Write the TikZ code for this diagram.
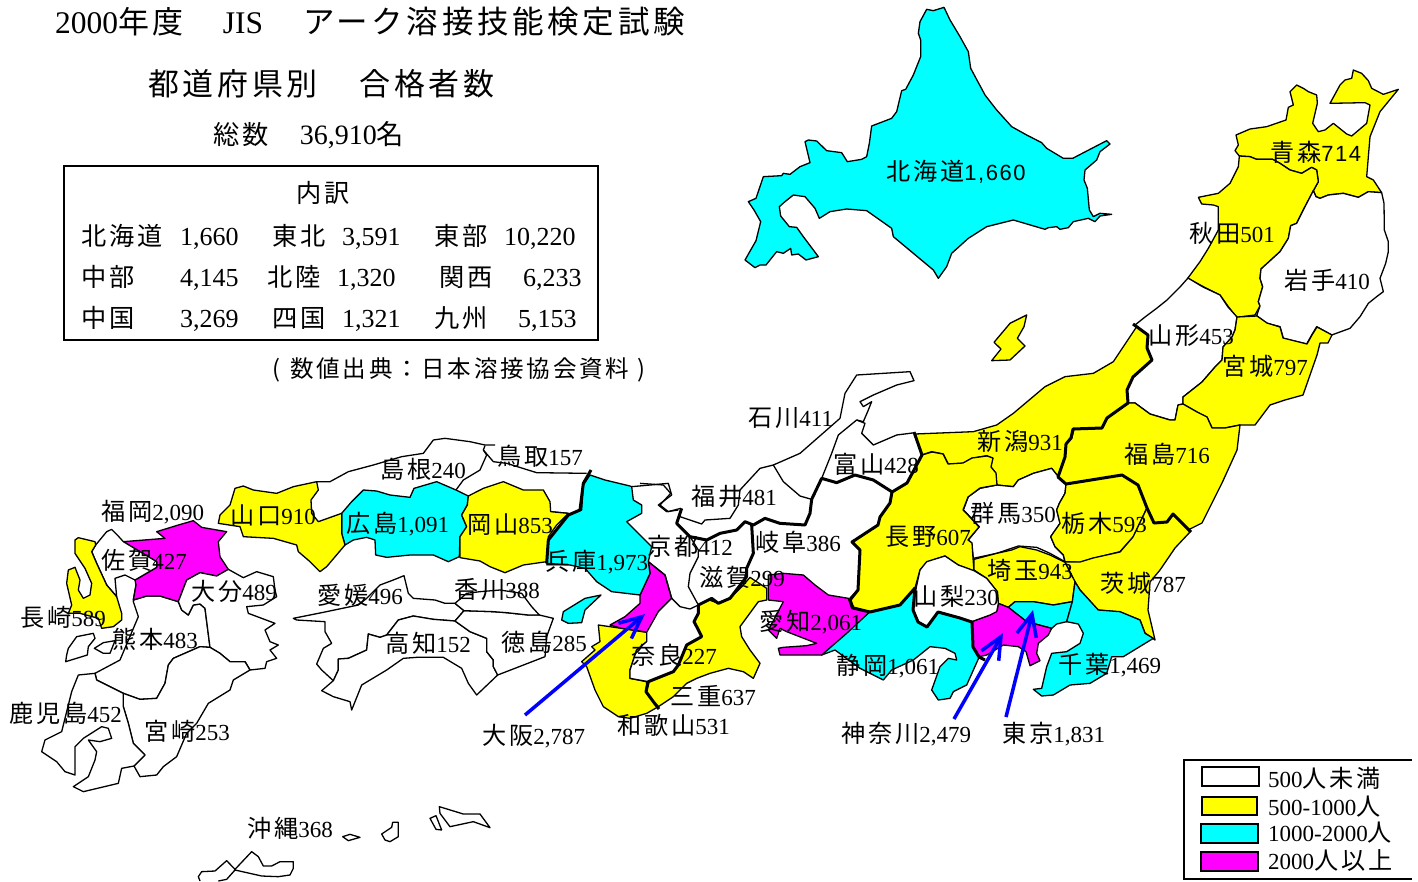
\documentclass[tikz,border=0pt]{standalone}
\usepackage{fontspec}
\setmainfont{Liberation Serif}
\newfontfamily\cjk[LetterSpace=11.8,Scale=1.05]{Noto Sans CJK JP}
\newfontfamily\sdig[LetterSpace=7]{Liberation Sans}
\usetikzlibrary{arrows.meta}
\definecolor{cy}{RGB}{0,255,255}
\definecolor{ye}{RGB}{255,255,0}
\definecolor{ma}{RGB}{255,0,255}
\definecolor{bl}{RGB}{0,0,255}
\tikzset{
 zm/.style={shift={(#1)},x=0.33333pt,y=-0.33333pt},
 pref/.style={draw=black,line width=1.3pt,line join=round},
 wh/.style={pref,fill=white},
 yy/.style={pref,fill=ye},
 cc/.style={pref,fill=cy},
 mm/.style={pref,fill=ma},
 thin line/.style={draw=black,line width=1.3pt,line join=round},
 thick line/.style={draw=black,line width=3pt,line join=round},
 mapl/.style={anchor=base west,inner sep=0pt,font=\fontsize{23}{23}\selectfont,text=black},
 txt/.style={anchor=base west,inner sep=0pt,font=\fontsize{24}{24}\selectfont,text=black},
 barrow/.style={draw=bl,line width=3.5pt,-{Straight Barb[length=22pt,width=20pt,line width=3.5pt]}},
 swatch/.style={draw=black,line width=2.5pt}
}
\newcommand{\lab}[5]{\node[mapl] (#1) at (#2,#3+8) {{\cjk #4}#5};}
\newcommand{\labs}[5]{\node[mapl,font=\fontsize{22}{22}\selectfont] (#1) at (#2,#3+8) {{\cjk\fontsize{23}{23}\selectfont #4}{\sdig #5}};}
\newcommand{\tk}[4]{\node[txt] (#1) at (#2,#3+9) {\cjk #4};}
\newcommand{\tn}[4]{\node[txt,font=\fontsize{26}{26}\selectfont] (#1) at (#2,#3+9) {#4};}
\begin{document}
\begin{tikzpicture}[x=1pt,y=-1pt]
\useasboundingbox (0,0) rectangle (1418,881);
\fill[white] (0,0) rectangle (1418,881);
% Hokkaido
\begin{scope}[zm={730,0}]
\path[cc] (590,28)--(610,32)--(642,22)--(660,60)--(690,110)--(715,155)--(722,205)--(765,285)--(800,330)--(845,380)--(890,405)--(935,428)--(950,445)--(1000,475)--(1028,475)--(1130,422)--(1140,432)--(1110,455)--(1100,480)--(1065,510)--(1062,540)--(1072,565)--(1078,630)--(1090,650)--(1110,640)--(1145,643)--(1110,648)--(1095,665)--(1075,655)--(1030,665)--(1015,683)--(990,688)--(980,680)--(955,683)--(945,688)--(850,660)--(770,680)--(715,715)--(665,760)--(650,800)--(625,835)--(610,810)--(490,710)--(485,685)--(410,632)--(350,627)--(300,635)--(268,655)--(255,625)--(225,590)--(190,585)--(165,605)--(148,620)--(152,648)--(178,680)--(200,682)--(220,710)--(250,750)--(265,770)--(228,780)--(205,762)--(185,765)--(182,745)--(160,760)--(140,755)--(108,795)--(90,795)--(75,803)--(45,780)--(78,722)--(92,665)--(72,630)--(55,605)--(78,595)--(100,530)--(155,527)--(160,520)--(180,523)--(210,500)--(240,488)--(225,425)--(235,420)--(260,423)--(290,452)--(335,458)--(352,485)--(395,478)--(410,470)--(418,430)--(425,378)--(485,355)--(500,335)--(515,272)--(527,268)--(550,225)--(572,170)--(572,120)--(565,100)--(570,65)--cycle;
\end{scope}
% Tohoku north
\begin{scope}[zm={1120,60}]
\path[yy] (348,225)--(390,207)--(440,200)--(498,180)--(505,142)--(520,135)--(510,95)--(530,75)--(550,85)--(565,95)--(590,105)--(592,130)--(578,190)--(595,215)--(615,210)--(640,190)--(680,222)--(695,228)--(740,190)--(750,135)--(735,128)--(630,130)--(660,75)--(675,60)--(695,55)--(700,30)--(725,40)--(745,62)--(755,85)--(790,103)--(835,88)--(780,155)--(750,230)--(740,350)--(760,360)--(785,398)--(745,395)--(715,412)--(670,400)--(625,405)--(600,415)--(588,410)--(580,392)--(595,365)--(590,330)--(575,322)--(545,340)--(510,330)--(480,310)--(458,298)--(410,298)--(390,290)--(358,288)--(345,272)--(355,255)--cycle;
\path[yy] (358,288)--(390,290)--(410,298)--(458,298)--(480,310)--(510,330)--(545,340)--(575,322)--(590,330)--(595,365)--(580,392)--(555,440)--(530,490)--(512,497)--(505,535)--(480,575)--(423,627)--(420,655)--(428,680)--(415,725)--(420,738)--(405,765)--(350,772)--(325,740)--(300,705)--(250,680)--(203,655)--(240,605)--(265,565)--(295,510)--(295,440)--(280,435)--(245,432)--(235,412)--(295,400)--(330,370)--(355,320)--cycle;
\path[wh] (588,410)--(600,415)--(625,405)--(670,400)--(715,412)--(745,395)--(785,398)--(792,430)--(793,510)--(805,545)--(805,575)--(797,610)--(780,655)--(790,695)--(770,710)--(745,730)--(720,770)--(690,805)--(635,825)--(590,800)--(575,825)--(560,852)--(490,835)--(480,800)--(440,790)--(410,767)--(420,738)--(415,725)--(428,680)--(420,655)--(423,627)--(480,575)--(505,535)--(512,497)--(530,490)--(555,440)--(580,392)--cycle;
\end{scope}
% Yamagata, Miyagi, Fukushima
\path[wh] (1188,278)--(1203,287)--(1220,295)--(1228,307)--(1237,317)--(1235,330)--(1232,337)--(1223,347)--(1222,360)--(1215,367)--(1202,382)--(1183,397)--(1183,404)--(1178,405)--(1175,420)--(1170,420)--(1150,414)--(1135,403)--(1128,403)--(1127,390)--(1133,377)--(1152,360)--(1147,348)--(1148,335)--(1135,325)--(1145,317)--(1157,308)--(1167,300)--(1180,287)--cycle;
\path[yy] (1237,317)--(1257,316)--(1267,323)--(1280,327)--(1283,338)--(1307,344)--(1312,335)--(1317,327)--(1332,335)--(1328,343)--(1320,343)--(1317,355)--(1310,375)--(1303,395)--(1285,400)--(1270,405)--(1255,425)--(1240,425)--(1225,428)--(1212,428)--(1207,417)--(1197,412)--(1183,404)--(1183,397)--(1202,382)--(1215,367)--(1222,360)--(1223,347)--(1232,337)--(1235,330)--cycle;
\path[yy] (1128,403)--(1135,403)--(1150,414)--(1170,420)--(1175,420)--(1178,405)--(1183,404)--(1197,412)--(1207,417)--(1212,428)--(1225,428)--(1240,425)--(1237,450)--(1222,483)--(1202,523)--(1188,530)--(1173,514)--(1167,522)--(1154,523)--(1147,508)--(1138,485)--(1122,475)--(1066,484)--(1058,477)--(1065,457)--(1066,444)--(1071,438)--(1073,429)--(1102,428)--(1107,418)--cycle;
% Niigata etc.
\begin{scope}[zm={900,310}]
\path[yy] (45,372)--(220,365)--(290,345)--(340,310)--(435,230)--(495,200)--(580,190)--(640,155)--(680,95)--(710,50)--(745,75)--(742,115)--(755,150)--(700,200)--(680,240)--(685,280)--(620,325)--(605,355)--(522,358)--(515,385)--(498,402)--(495,440)--(475,500)--(455,475)--(400,490)--(355,510)--(340,530)--(290,525)--(287,490)--(272,470)--(278,445)--(260,437)--(215,445)--(190,460)--(145,462)--(130,432)--(95,425)--(65,435)--cycle;
\path[yy] (380,15)--(330,40)--(282,97)--(303,117)--(275,152)--(330,150)--(375,108)--(352,85)--(372,50)--cycle;
\path[wh] (475,500)--(498,523)--(495,550)--(478,580)--(470,600)--(480,640)--(452,680)--(465,710)--(490,735)--(495,755)--(450,730)--(410,712)--(355,708)--(290,730)--(220,745)--(215,700)--(205,690)--(238,650)--(205,615)--(190,600)--(205,560)--(240,535)--(290,525)--(340,530)--(355,510)--(400,490)--(455,475)--cycle;
\path[yy] (498,523)--(665,495)--(715,525)--(740,595)--(700,680)--(660,725)--(580,745)--(540,757)--(495,755)--(490,735)--(465,710)--(452,680)--(480,640)--(470,600)--(478,580)--(495,550)--cycle;
\end{scope}
\path[yy] (1065,562)--(1080,562)--(1093,558)--(1120,552)--(1133,537)--(1147,508)--(1154,523)--(1167,522)--(1173,514)--(1190,532)--(1175,548)--(1160,570)--(1150,582)--(1148,610)--(1155,640)--(1145,633)--(1140,620)--(1120,612)--(1098,610)--(1080,590)--(1075,582)--cycle;
% Nagano
\path[yy] (922,455)--(932,452)--(943,454)--(948,464)--(963,463)--(972,458)--(987,456)--(993,458)--(991,467)--(996,473)--(997,485)--(980,488)--(968,497)--(963,510)--(968,515)--(979,527)--(968,540)--(972,543)--(973,558)--(974,571)--(958,565)--(945,556)--(927,562)--(920,570)--(915,588)--(900,605)--(870,612)--(853,607)--(850,598)--(858,590)--(860,550)--(852,542)--(878,525)--(880,517)--(890,503)--(892,492)--(907,483)--cycle;
% Kanto
\begin{scope}[zm={820,500}]
\path[yy] (462,178)--(530,160)--(575,150)--(600,140)--(650,150)--(690,165)--(735,187)--(765,245)--(757,305)--(700,315)--(640,305)--(585,305)--(565,322)--(535,310)--(532,275)--(500,235)--(462,210)--cycle;
\path[cc] (565,322)--(585,305)--(640,305)--(700,315)--(757,305)--(740,365)--(710,372)--(695,385)--(620,365)--cycle;
\path[mm] (535,310)--(565,322)--(620,365)--(695,385)--(685,405)--(655,430)--(650,460)--(660,482)--(630,497)--(618,455)--(595,440)--(550,435)--(500,465)--(478,470)--(460,440)--(455,365)--(510,345)--(532,330)--cycle;
\path[wh] (375,168)--(415,195)--(462,212)--(500,235)--(532,275)--(535,310)--(530,335)--(510,345)--(455,365)--(420,355)--(355,335)--(320,382)--(295,365)--(280,330)--(285,280)--(300,210)--(320,185)--cycle;
\path[cc] (150,335)--(240,315)--(285,265)--(280,330)--(295,365)--(320,382)--(355,335)--(420,355)--(455,365)--(460,440)--(478,470)--(440,555)--(400,575)--(390,595)--(355,600)--(335,570)--(360,500)--(385,475)--(410,480)--(405,460)--(375,445)--(330,440)--(280,480)--(215,510)--(190,540)--(120,505)--(45,450)--(5,465)--(20,420)--(75,395)--cycle;
\path[cc] (765,245)--(780,270)--(835,330)--(900,335)--(960,360)--(975,400)--(1000,415)--(910,470)--(875,470)--(860,520)--(810,550)--(750,555)--(700,585)--(665,588)--(640,568)--(665,565)--(680,500)--(695,460)--(740,455)--(780,430)--(790,400)--(775,372)--(740,365)--(757,305)--cycle;
\end{scope}
% Chubu west, Hokuriku
\begin{scope}[zm={640,360}]
\path[mm] (385,645)--(430,640)--(490,645)--(525,675)--(565,705)--(625,715)--(635,745)--(690,755)--(620,820)--(545,885)--(420,885)--(415,865)--(430,862)--(500,857)--(530,850)--(440,815)--(420,805)--(410,835)--(385,810)--(430,725)--(385,720)--(385,690)--cycle;
\path[thin line] (400,315)--(480,280)--(600,175)--(615,100)--(650,45)--(810,35)--(822,62)--(770,75)--(700,105)--(660,125)--(670,140)--(695,125)--(685,150)--(670,185)--(650,180)--(595,225)--(575,280)--(545,355);
\path[thin line] (650,180)--(675,190)--(665,220)--(700,255)--(770,225)--(825,218);
\path[thin line] (120,470)--(185,492)--(195,480)--(270,475)--(295,435)--(300,390)--(360,325)--(400,315)--(430,365)--(480,408)--(515,418);
\path[thin line] (0,370)--(70,375)--(92,400)--(60,435)--(85,455)--(122,445);
\path[thin line] (150,530)--(175,570)--(175,590)--(150,640)--(145,680)--(175,735);
\end{scope}
% Kinki
\begin{scope}[zm={540,460}]
\path[yy] (475,435)--(508,420)--(535,430)--(570,415)--(610,375)--(630,352)--(680,385)--(680,420)--(655,425)--(600,500)--(605,530)--(630,570)--(660,610)--(640,655)--(610,635)--(565,625)--(510,640)--(470,655)--(440,670)--(400,710)--(355,740)--(340,725)--(318,695)--(325,665)--(400,635)--(415,615)--(440,555)--(485,530)--(470,500)--(462,485)--(475,460)--cycle;
\path[yy] (175,495)--(245,505)--(320,517)--(320,545)--(290,570)--(270,630)--(270,655)--(320,665)--(318,695)--(340,725)--(355,740)--(320,760)--(270,775)--(235,770)--(190,740)--(165,690)--(140,620)--(125,605)--(165,570)--(155,560)--(180,545)--cycle;
\path[mm] (325,305)--(375,345)--(395,415)--(355,455)--(325,517)--(245,505)--(210,495)--(255,470)--(300,430)--(300,405)--(330,340)--cycle;
\path[wh] (395,415)--(420,440)--(450,447)--(475,435)--(475,460)--(462,485)--(470,500)--(485,530)--(440,555)--(415,615)--(400,635)--(325,665)--(270,655)--(270,630)--(290,570)--(320,545)--(320,517)--(355,455)--cycle;
\path[thin line] (275,80)--(385,70)--(395,105)--(355,135)--(380,155)--(415,150);
\path[thin line] (395,415)--(375,345)--(325,305);
\path[cc] (150,45)--(195,60)--(270,78)--(275,80)--(280,120)--(305,135)--(305,160)--(260,185)--(305,230)--(335,260)--(325,305)--(330,340)--(300,405)--(215,395)--(170,365)--(135,325)--(90,315)--(20,310)--(25,240)--(85,165)--(125,150)--(130,75)--cycle;
\path[cc] (183,405)--(135,415)--(70,455)--(65,480)--(85,490)--(125,488)--(135,450)--cycle;
\end{scope}
% Chugoku
\begin{scope}[zm={210,430}]
\path[thin line] (320,155)--(360,155)--(415,125)--(490,105)--(575,80)--(640,70)--(670,30)--(705,25)--(780,35)--(825,45)--(855,45);
\path[thin line] (825,47)--(820,60)--(830,75)--(810,120)--(760,150)--(738,180);
\path[thin line] (820,60)--(850,95)--(890,100)--(980,128)--(1130,130);
\path[thin line] (303,210)--(320,155);
\path[thin line] (1022,245)--(1075,250);
\path[cc] (460,180)--(500,183)--(540,195)--(600,202)--(612,175)--(680,155)--(738,180)--(775,198)--(772,225)--(755,255)--(770,290)--(750,320)--(748,380)--(715,395)--(670,375)--(600,375)--(530,382)--(497,375)--(495,330)--(470,322)--(430,330)--(405,345)--(395,310)--(395,250)--(425,215)--cycle;
\path[yy] (775,198)--(820,175)--(880,155)--(940,180)--(1000,180)--(1020,215)--(1022,245)--(1075,250)--(1040,285)--(1015,320)--(1010,395)--(940,405)--(885,428)--(840,410)--(810,393)--(750,383)--(750,320)--(770,290)--(755,255)--(772,225)--cycle;
\path[yy] (320,155)--(325,180)--(303,210)--(305,250)--(325,275)--(395,250)--(395,310)--(405,345)--(350,410)--(330,425)--(300,395)--(265,365)--(260,345)--(190,325)--(100,320)--(90,290)--(25,280)--(30,255)--(60,225)--(75,175)--(100,168)--(130,180)--(200,190)--(250,170)--cycle;
\end{scope}
% Shikoku
\begin{scope}[zm={280,560}]
\path[wh] (40,175)--(125,158)--(235,135)--(260,115)--(300,75)--(340,60)--(372,47)--(385,100)--(400,115)--(465,120)--(495,130)--(525,130)--(552,152)--(525,183)--(460,178)--(400,168)--(355,180)--(320,225)--(300,232)--(265,222)--(260,270)--(205,295)--(175,297)--(175,330)--(160,362)--(125,330)--(110,312)--(130,265)--(155,250)--(135,215)--(135,185)--(50,180)--cycle;
\path[wh] (525,183)--(570,215)--(620,235)--(620,275)--(640,300)--(640,320)--(653,345)--(590,405)--(565,370)--(545,325)--(490,292)--(410,292)--(370,295)--(320,330)--(245,375)--(215,450)--(210,425)--(160,410)--(125,392)--(160,362)--(175,330)--(175,297)--(205,295)--(260,270)--(265,222)--(300,232)--(320,225)--(355,180)--(400,168)--(460,178)--cycle;
\path[wh] (552,152)--(640,155)--(680,158)--(745,165)--(778,165)--(820,175)--(800,230)--(795,290)--(653,345)--(640,320)--(640,300)--(620,275)--(620,235)--(570,215)--(525,183)--cycle;
\path[wh] (525,130)--(560,100)--(600,95)--(660,90)--(725,100)--(755,140)--(778,165)--(745,165)--(680,158)--(640,155)--(552,152)--cycle;
\end{scope}
% Kyushu
\begin{scope}[zm={0,490}]
\path[wh] (408,285)--(400,335)--(415,380)--(360,510)--(285,550)--(290,570)--(370,610)--(420,628)--(470,625)--(495,580)--(505,525)--(520,505)--(600,470)--(630,472)--(615,355)--(600,342)--(580,345)--(565,375)--(545,360)--(535,335)--(480,318)--(440,318)--(400,330)--cycle;
\path[mm] (370,155)--(495,145)--(470,125)--(535,105)--(580,92)--(605,112)--(680,125)--(655,155)--(660,200)--(685,238)--(650,258)--(600,248)--(560,270)--(535,335)--(480,318)--(440,318)--(400,330)--(408,285)--(405,270)--(470,232)--(470,215)--cycle;
\path[wh] (287,165)--(320,125)--(335,118)--(352,135)--(370,155)--(470,215)--(470,232)--(405,270)--(375,255)--(345,265)--(350,320)--(320,285)--(290,220)--(275,185)--cycle;
\path[yy] (225,150)--(235,143)--(285,155)--(287,165)--(275,185)--(290,220)--(320,285)--(350,320)--(365,370)--(365,390)--(340,410)--(305,415)--(295,385)--(240,370)--(205,370)--(215,345)--(200,280)--(205,240)--(225,232)--(240,270)--(235,300)--(250,325)--(270,315)--(275,280)--(255,235)--(225,190)--cycle;
\path[wh] (205,475)--(230,440)--(280,430)--(285,445)--(265,470)--(262,495)--(197,515)--(200,495)--cycle;
\path[wh] (283,475)--(310,458)--(345,452)--(330,490)--(310,490)--cycle;
\path[wh] (535,335)--(560,270)--(600,248)--(650,258)--(685,238)--(730,263)--(770,245)--(820,260)--(825,300)--(830,320)--(790,345)--(740,350)--(745,370)--(825,400)--(795,420)--(810,455)--(835,465)--(810,480)--(830,505)--(800,515)--(795,535)--(750,540)--(735,515)--(690,515)--(660,490)--(630,472)--(615,355)--(600,342)--(580,345)--(565,375)--(545,360)--cycle;
\path[wh] (600,470)--(630,472)--(660,490)--(690,515)--(735,515)--(750,540)--(700,570)--(690,600)--(625,640)--(590,700)--(560,730)--(530,800)--(490,830)--(470,855)--(420,860)--(402,828)--(435,795)--(400,760)--(385,700)--(370,650)--(370,610)--(420,628)--(470,625)--(495,580)--(505,525)--(520,505)--cycle;
\path[wh] (285,550)--(290,570)--(370,610)--(370,650)--(385,700)--(400,760)--(435,795)--(402,828)--(365,835)--(355,880)--(250,905)--(220,890)--(265,860)--(285,810)--(290,785)--(265,750)--(300,755)--(335,745)--(325,715)--(305,710)--(250,745)--(225,770)--(225,855)--(195,845)--(170,815)--(125,785)--(135,750)--(185,725)--(215,605)--(235,555)--cycle;
\end{scope}
% Okinawa
\begin{scope}[zm={190,790}]
\path[thin line] (30,273)--(25,260)--(35,245)--(75,243)--(110,212)--(135,238)--(185,185)--(205,200)--(220,228)--(245,228)--(270,215)--(310,215)--(310,235)--(300,255)--(265,260)--(215,258)--(135,240)--(110,268)--(85,273);
\path[wh] (458,140)--(480,133)--(510,142)--(475,152)--cycle;
\path[wh] (575,132)--(605,112)--(608,97)--(625,97)--(625,140)--(600,155)--(585,150)--cycle;
\path[wh] (720,85)--(738,77)--(755,120)--(738,118)--cycle;
\path[wh] (748,50)--(820,72)--(870,72)--(900,113)--(850,95)--(780,110)--(750,70)--cycle;
\end{scope}
% thick regional boundaries
\path[thick line] (1133,324)--(1148,335)--(1147,348)--(1152,360)--(1133,377)--(1127,390)--(1128,403)--(1107,418)--(1102,428)--(1073,429)--(1071,438)--(1066,444)--(1065,457)--(1058,477)--(1066,484)--(1122,475)--(1138,485)--(1147,508)--(1154,523)--(1167,522)--(1173,514)--(1191,532);
\path[thick line] (914,432)--(922,455)--(907,483)--(892,492)--(890,503)--(880,517)--(878,525)--(852,542)--(860,550)--(858,590)--(850,600)--(853,608)--(870,612)--(900,605)--(915,588)--(913,610)--(918,622)--(927,627)--(938,612)--(960,618)--(972,622)--(973,647)--(979,657)--(985,660);
\begin{scope}[zm={640,360}]
\path[thick line] (125,445)--(110,490)--(150,530)--(200,540)--(240,520)--(290,510)--(315,485)--(340,495)--(375,475)--(420,490)--(495,495)--(510,460)--(515,418)--(545,355)--(590,368)--(645,345)--(700,360)--(755,395);
\path[thick line] (335,495)--(340,580)--(320,625)--(320,650)--(270,715)--(235,730)--(215,715)--(175,735);
\end{scope}
\begin{scope}[zm={540,460}]
\path[thick line] (475,435)--(475,460)--(462,485)--(470,500)--(485,530)--(440,555)--(415,615)--(400,635)--(325,665)--(318,695)--(340,725)--(357,747);
\path[thick line] (153,30)--(130,70)--(120,150)--(85,165)--(25,240)--(20,310);
\end{scope}
% arrows
\coordinate (osakaFrom) at (525,715);
\coordinate (osakaTo) at (645,614);
\coordinate (kanagawaFrom) at (954,719);
\coordinate (kanagawaTo) at (1003,633);
\coordinate (tokyoFrom) at (1006,717);
\coordinate (tokyoTo) at (1033,610);
\draw[barrow] (osakaFrom) -- (osakaTo);
\draw[barrow] (kanagawaFrom) -- (kanagawaTo);
\draw[barrow] (tokyoFrom) -- (tokyoTo);
% labels
\labs{hokkaido}{886}{172}{北海道}{1,660}
\labs{aomori}{1270}{153}{青森}{714}
\lab{akita}{1189}{234}{秋田}{501}
\lab{iwate}{1284}{281}{岩手}{410}
\lab{yamagata}{1148}{336}{山形}{453}
\lab{miyagi}{1222}{367}{宮城}{797}
\lab{niigata}{977}{442}{新潟}{931}
\lab{fukushima}{1124}{455}{福島}{716}
\lab{ishikawa}{748}{418}{石川}{411}
\lab{toyama}{833}{465}{富山}{428}
\lab{fukui}{691}{497}{福井}{481}
\lab{gunma}{970}{514}{群馬}{350}
\lab{tochigi}{1061}{524}{栃木}{593}
\lab{nagano}{885}{537}{長野}{607}
\lab{gifu}{755}{543}{岐阜}{386}
\lab{kyoto}{647}{547}{京都}{412}
\lab{shiga}{699}{578}{滋賀}{299}
\lab{saitama}{987}{571}{埼玉}{943}
\lab{ibaraki}{1100}{584}{茨城}{787}
\lab{yamanashi}{913}{597}{山梨}{230}
\lab{aichi}{759}{622}{愛知}{2,061}
\lab{shizuoka}{836}{666}{静岡}{1,061}
\lab{chiba}{1058}{665}{千葉}{1,469}
\lab{nara}{631}{656}{奈良}{227}
\lab{mie}{670}{697}{三重}{637}
\lab{wakayama}{617}{726}{和歌山}{531}
\lab{osaka}{482}{736}{大阪}{2,787}
\lab{kanagawa}{841}{734}{神奈川}{2,479}
\lab{tokyo}{1002}{734}{東京}{1,831}
\lab{shimane}{380}{470}{島根}{240}
\lab{tottori}{497}{457}{鳥取}{157}
\lab{yamaguchi}{230}{516}{山口}{910}
\lab{hiroshima}{346}{524}{広島}{1,091}
\lab{okayama}{467}{525}{岡山}{853}
\lab{hyogo}{545}{562}{兵庫}{1,973}
\lab{fukuoka}{101}{512}{福岡}{2,090}
\lab{saga}{101}{561}{佐賀}{427}
\lab{oita}{191}{592}{大分}{489}
\lab{nagasaki}{20}{618}{長崎}{589}
\lab{kumamoto}{112}{640}{熊本}{483}
\lab{ehime}{317}{596}{愛媛}{496}
\lab{kagawa}{454}{590}{香川}{388}
\lab{kochi}{385}{644}{高知}{152}
\lab{tokushima}{501}{643}{徳島}{285}
\lab{kagoshima}{9}{714}{鹿児島}{452}
\lab{miyazaki}{144}{732}{宮崎}{253}
\lab{okinawa}{247}{829}{沖縄}{368}
% title
\node[txt,font=\fontsize{31.5}{31.5}\selectfont] (title1) at (55,33) {2000{\cjk\fontsize{29.5}{29.5}\selectfont 年度}\hspace{39pt}JIS\hspace{40pt}{\cjk\fontsize{30}{30}\selectfont アーク溶接技能検定試験}};
\node[txt,font=\fontsize{29.5}{29.5}\selectfont] (title2) at (148,95) {\cjk 都道府県別\hspace{42pt}合格者数};
\node[txt,font=\fontsize{28}{28}\selectfont] (total) at (213,144) {{\cjk\fontsize{25}{25}\selectfont 総数}\hspace{31pt}36,910{\cjk\fontsize{26}{26}\selectfont 名}};
% table
\draw[black,line width=2pt] (64,166) rectangle (598,340);
\tk{uchi}{296}{193}{内訳}
\tk{k1}{81}{236}{北海道}\tn{n1}{180}{236}{1,660}
\tk{k2}{272}{236}{東北}\tn{n2}{342}{236}{3,591}
\tk{k3}{434}{236}{東部}\tn{n3}{504}{236}{10,220}
\tk{k4}{81}{277}{中部}\tn{n4}{180}{277}{4,145}
\tk{k5}{267}{277}{北陸}\tn{n5}{337}{277}{1,320}
\tk{k6}{439}{277}{関西}\tn{n6}{523}{277}{6,233}
\tk{k7}{81}{318}{中国}\tn{n7}{180}{318}{3,269}
\tk{k8}{272}{318}{四国}\tn{n8}{342}{318}{1,321}
\tk{k9}{434}{318}{九州}\tn{n9}{518}{318}{5,153}
\node[mapl,font=\fontsize{22.4}{22.4}\selectfont] (source) at (272,377) {\cjk (\hspace{10pt}数値出典：日本溶接協会資料\hspace{8pt})};
% legend
\draw[black,line width=2pt] (1412,760) -- (1184,760) -- (1184,879) -- (1412,879);
\draw[swatch,fill=white] (1202,767) rectangle (1259,786);
\draw[swatch,fill=ye] (1202,797) rectangle (1257,815);
\draw[swatch,fill=cy] (1201,824) rectangle (1258,843);
\draw[swatch,fill=ma] (1201,852) rectangle (1258,871);
\node[mapl] (lg1) at (1268,787) {500{\cjk 人未満}};
\node[mapl] (lg2) at (1268,815) {500-1000{\cjk 人}};
\node[mapl] (lg3) at (1268,841) {1000-2000{\cjk 人}};
\node[mapl] (lg4) at (1268,869) {2000{\cjk 人以上}};
\end{tikzpicture}
\end{document}
